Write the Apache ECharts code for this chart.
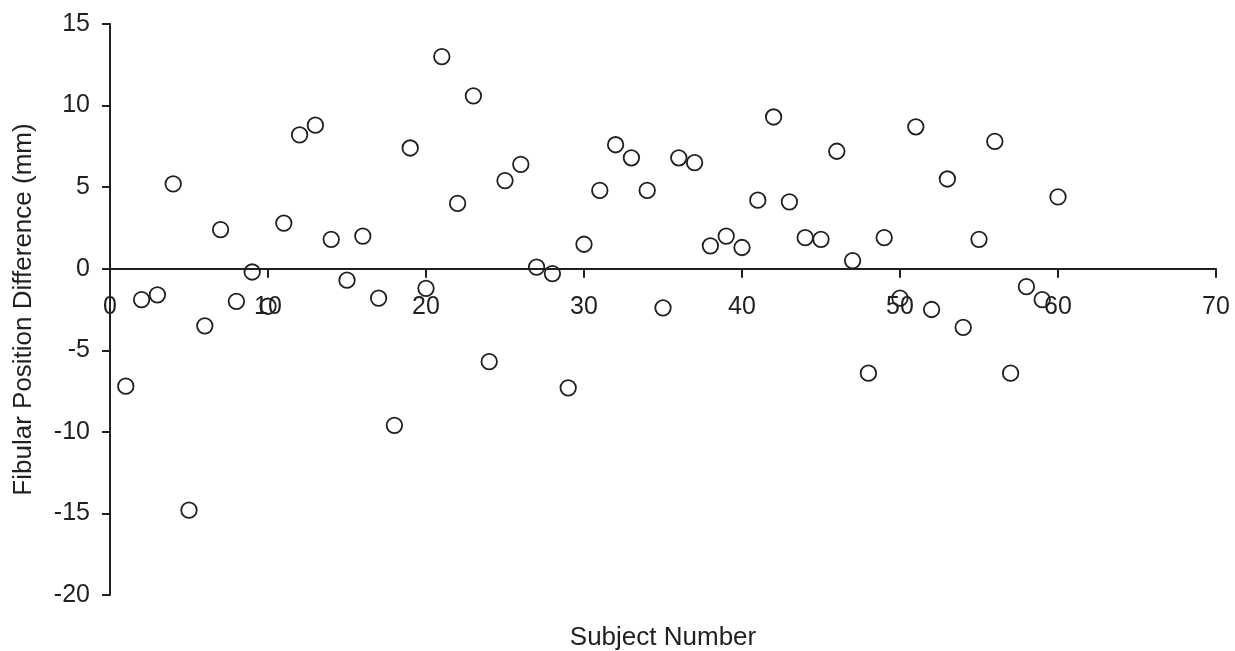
<!DOCTYPE html>
<html>
<head>
<meta charset="utf-8">
<script src="https://cdn.jsdelivr.net/npm/echarts@6/dist/echarts.min.js"></script>
<style>
html,body{margin:0;padding:0;background:#fff;}
#chart{width:1235px;height:651px;}
</style>
</head>
<body>
<div id="chart"></div>
<script>
// ---- data ----
const subjects = [1,2,3,4,5,6,7,8,9,10,11,12,13,14,15,16,17,18,19,20,
  21,22,23,24,25,26,27,28,29,30,31,32,33,34,35,36,37,38,39,40,
  41,42,43,44,45,46,47,48,49,50,51,52,53,54,55,56,57,58,59,60];
const differences = [-7.2,-1.9,-1.6,5.2,-14.8,-3.5,2.4,-2.0,-0.2,-2.3,
  2.8,8.2,8.8,1.8,-0.7,2.0,-1.8,-9.6,7.4,-1.2,
  13.0,4.0,10.6,-5.7,5.4,6.4,0.1,-0.3,-7.3,1.5,
  4.8,7.6,6.8,4.8,-2.4,6.8,6.5,1.4,2.0,1.3,
  4.2,9.3,4.1,1.9,1.8,7.2,0.5,-6.4,1.9,-1.8,
  8.7,-2.5,5.5,-3.6,1.8,7.8,-6.4,-1.1,-1.9,4.4];
const xTicks = [0,10,20,30,40,50,60,70];
const yTicks = [-20,-15,-10,-5,0,5,10,15];
const xTitle = 'Subject Number';
const yTitle = 'Fibular Position Difference (mm)';

const ink = '#231f20';
const fontFamily = '"Liberation Sans", Arial, Helvetica, sans-serif';

const points = subjects.map((s, i) => [s, differences[i]]);

const W = 1235, H = 651;
const grid = {left: 110, right: 19, top: 24, bottom: 56};
const yMin = yTicks[0], yMax = yTicks[yTicks.length - 1];
const gridH = H - grid.top - grid.bottom;
// place the x axis (line, ticks and labels) on y = 0
const xAxisOffset = -gridH * (0 - yMin) / (yMax - yMin);

const chart = echarts.init(document.getElementById('chart'));
chart.setOption({
  animation: false,
  backgroundColor: '#fff',
  grid: Object.assign({containLabel: false, outerBoundsMode: 'none'}, grid),
  xAxis: {
    type: 'value',
    position: 'bottom',
    offset: xAxisOffset,
    min: xTicks[0], max: xTicks[xTicks.length - 1], interval: xTicks[1] - xTicks[0],
    axisLine: {show: true, onZero: false, lineStyle: {color: ink, width: 2}},
    axisTick: {show: true, inside: false, length: 9, lineStyle: {color: ink, width: 2}},
    axisLabel: {show: true, margin: 26, color: ink, fontSize: 25, fontFamily: fontFamily,
      showMinLabel: true, showMaxLabel: true, hideOverlap: false},
    splitLine: {show: false}
  },
  yAxis: {
    type: 'value',
    min: yMin, max: yMax, interval: yTicks[1] - yTicks[0],
    name: yTitle, nameLocation: 'middle', nameRotate: 90, nameGap: 73,
    nameTextStyle: {color: ink, fontSize: 26, fontFamily: fontFamily},
    axisLine: {show: true, onZero: false, lineStyle: {color: ink, width: 2}},
    axisTick: {show: true, inside: false, length: 8, lineStyle: {color: ink, width: 2}},
    axisLabel: {show: true, margin: 20, color: ink, fontSize: 25, fontFamily: fontFamily,
      showMinLabel: true, showMaxLabel: true},
    splitLine: {show: false}
  },
  graphic: [{
    type: 'text', x: 663, y: 638, silent: true,
    style: {text: xTitle, fill: ink, font: '26px ' + fontFamily, align: 'center', verticalAlign: 'middle'}
  }],
  series: [{
    type: 'scatter',
    data: points,
    symbol: 'circle',
    symbolSize: 15.5,
    z: 5,
    itemStyle: {color: 'rgba(255,255,255,0)', borderColor: ink, borderWidth: 1.8, opacity: 1}
  }]
});
</script>
</body>
</html>
